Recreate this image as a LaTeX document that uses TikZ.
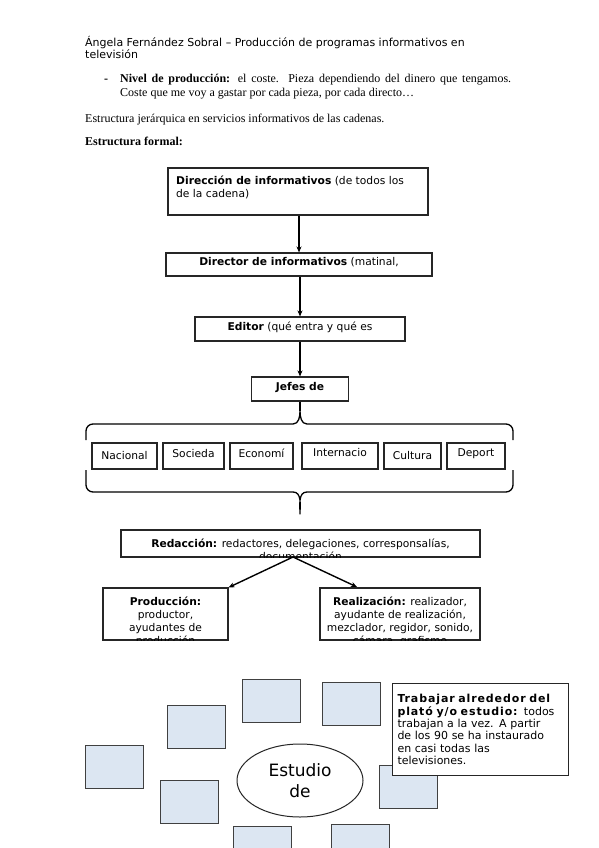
\documentclass[tikz,border=0pt]{standalone}
\usepackage{fontspec}
\setmainfont{Liberation Serif}
\newfontfamily\dejavu{DejaVu Sans}
\usetikzlibrary{arrows.meta,shapes.geometric}
\definecolor{tileblue}{HTML}{DCE6F2}
\newcommand{\HeadFont}{\dejavu\fontsize{11}{12}\selectfont}
\newcommand{\BodyFont}{\fontsize{12}{14}\selectfont}
\newcommand{\BoxFont}{\dejavu\fontsize{10.7}{12.8}\selectfont}

\begin{document}
\begin{tikzpicture}[x=1pt,y=-1pt,
  body/.style={anchor=base west,inner sep=0pt,font=\BodyFont},
  orgbox/.style={draw=black!85,line width=1.1pt,fill=white,inner sep=0pt},
  boxtext/.style={inner sep=0pt,font=\BoxFont,align=center},
  flow/.style={-{Stealth[length=6pt,width=5pt]},line width=1.4pt},
  bracelin/.style={line width=1.3pt,line join=round},
  tile/.style={draw=black!75,fill=tileblue,line width=1pt,minimum width=58pt,minimum height=43pt,inner sep=0pt}]
\clip (0,0) rectangle (599,848);
\fill[white] (0,0) rectangle (599,848);

% page text
\node[anchor=base west,inner sep=0pt,align=left,font=\HeadFont] (header) at (85,59)
  {Ángela Fernández Sobral – Producción de programas informativos en\\televisión};
\node[body,font=\BodyFont\bfseries] (dash) at (104,83) {-};
\node[body] (nivel1) at (120,83)
  {\makebox[391pt][s]{\textbf{Nivel de producción:} el coste. Pieza dependiendo del dinero que tengamos.}};
\node[body] (nivel2) at (120,97) {Coste que me voy a gastar por cada pieza, por cada directo…};
\node[body] (jerarq) at (85,122) {Estructura jerárquica en servicios informativos de las cadenas.};
\node[body] (formal) at (85,145) {\textbf{Estructura formal:}};

% hierarchy
\node[orgbox,minimum width=260pt,minimum height=47pt] (direccion) at (298,191.5) {};
\node[boxtext,anchor=base west,align=left] (direcciontxt) at (176,197)
  {\textbf{Dirección de informativos} (de todos los\\de la cadena)};
\node[orgbox,minimum width=266pt,minimum height=23pt] (director) at (299,264.5) {};
\node[boxtext] (directortxt) at ([yshift=2pt]director.center) {\textbf{Director de informativos} (matinal,};
\node[orgbox,minimum width=210pt,minimum height=24pt] (editor) at (300,329) {};
\node[boxtext] (editortxt) at ([yshift=2pt]editor.center) {\textbf{Editor} (qué entra y qué es};
\node[orgbox,minimum width=97pt,minimum height=24pt] (jefes) at (300,389) {};
\node[boxtext] (jefestxt) at ([yshift=1pt]jefes.center) {\textbf{Jefes de}};

\draw[flow] (director.north |- direccion.south) -- (director.north);
\draw[flow] (editor.north |- director.south) -- (editor.north);
\draw[flow] (jefes.north |- editor.south) -- (jefes.north);

% braces
\coordinate (bracetop) at (300,411);
\coordinate (bracefoot) at (300,514);
\draw[line width=1.3pt] (jefes.south) -- (bracetop);
\draw[bracelin] (86,440) -- (86,431) to[out=90,in=180] (93,424) -- (293,424)
  to[out=0,in=-90] (bracetop) to[out=-90,in=180] (307,424) -- (506,424)
  to[out=0,in=90] (513,431) -- (513,440);
\draw[bracelin] (86,470) -- (86,485) to[out=-90,in=180] (93,492) -- (293,492)
  to[out=0,in=90] (bracefoot) to[out=90,in=180] (307,492) -- (506,492)
  to[out=0,in=-90] (513,485) -- (513,470);

% sections
\foreach \nm/\cx/\bw/\txt/\dy in {nacional/124.5/65/Nacional/0,
    sociedad/193.5/61/Socieda/2,
    economia/261.5/63/Economí/3,
    internacional/340/76/Internacio/3.5,
    cultura/412.5/57/Cultura/0,
    deportes/476/58/Deport/2}{
  \node[orgbox,minimum width=\bw pt,minimum height=26pt] (\nm) at (\cx,456) {};
  \node[boxtext] (\nm-txt) at ([yshift=\dy pt]\nm.center) {\txt};
}

% redaccion
\node[orgbox,minimum width=359pt,minimum height=27pt] (redaccion) at (300.5,543.5) {};
\begin{scope}
  \clip (redaccion.south west) rectangle (redaccion.north east);
  \node[boxtext,anchor=base] (redacciontxt) at (300.5,560)
    {\textbf{Redacción:} redactores, delegaciones, corresponsalías,\\documentación};
\end{scope}
\node[orgbox,minimum width=125pt,minimum height=52pt] (produccion) at (165.5,614) {};
\begin{scope}
  \clip (produccion.south west) rectangle (produccion.north east);
  \node[boxtext,anchor=base] (producciontxt) at (165.5,644)
    {\textbf{Producción:}\\productor,\\ayudantes de\\producción};
\end{scope}
\node[orgbox,minimum width=160pt,minimum height=52pt] (realizacion) at (400,614) {};
\begin{scope}
  \clip (realizacion.south west) rectangle (realizacion.north east);
  \node[boxtext,anchor=base] (realizaciontxt) at (400,644)
    {\textbf{Realización:} realizador,\\ayudante de realización,\\mezclador, regidor, sonido,\\cámara, grafismo};
\end{scope}
\coordinate (redfoot) at (293,557);
\coordinate (realtop) at (357,587);
\draw[flow] (redfoot) -- (produccion.north east);
\draw[flow] (redfoot) -- (realtop);

% plato
\node[tile] (tile1) at (196,727) {};
\node[tile] (tile2) at (271,700.5) {};
\node[tile] (tile3) at (351,704) {};
\node[tile] (tile4) at (114,767) {};
\node[tile] (tile5) at (189,802) {};
\node[tile] (tile6) at (408,786.5) {};
\node[tile] (tile7) at (262,848) {};
\node[tile] (tile8) at (360.5,846) {};
\node[draw=black!85,line width=1pt,fill=white,ellipse,minimum width=126pt,minimum height=73pt,
  align=center,font=\dejavu\fontsize{17}{21}\selectfont] (estudio) at (300,780.5) {Estudio\\de};
\node[draw=black!85,line width=1pt,fill=white,anchor=north west,inner sep=5pt,
  text width=166pt,minimum height=92pt,align=left,font=\dejavu\fontsize{11}{12.3}\selectfont] (plato) at (392,683)
  {{\addfontfeature{LetterSpace=8}\textbf{Trabajar alrededor del}}\\{\addfontfeature{LetterSpace=8}\textbf{plató y/o estudio:}} todos\\trabajan a la vez. A partir\\de los 90 se ha instaurado\\en casi todas las\\televisiones.};
\end{tikzpicture}
\end{document}
